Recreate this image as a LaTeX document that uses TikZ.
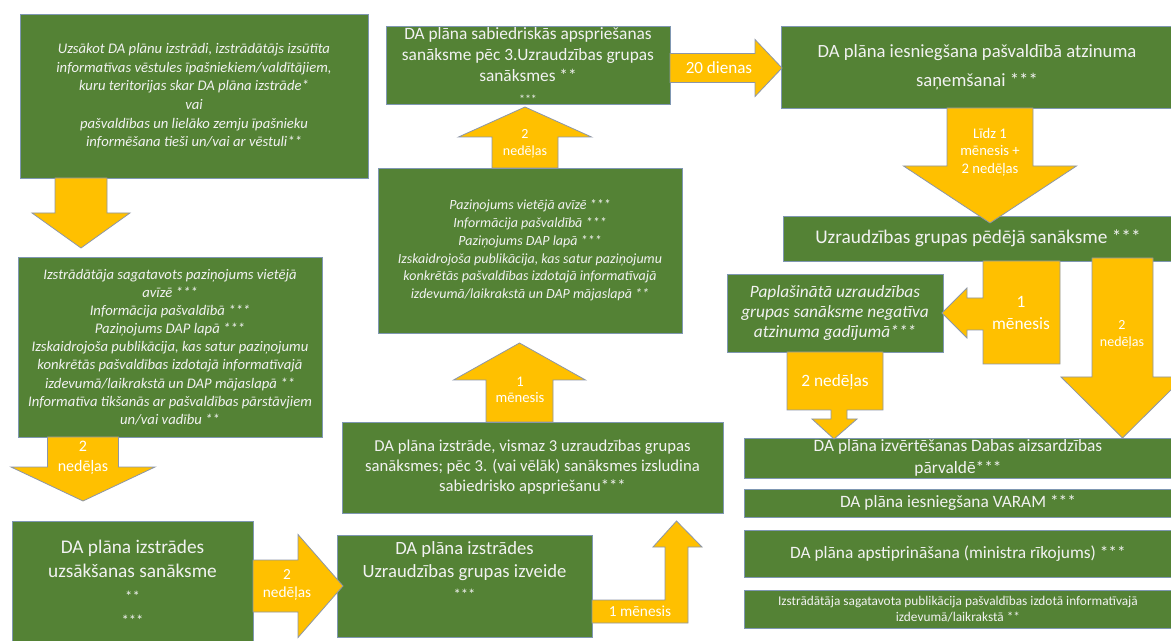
\documentclass[tikz,border=0pt]{standalone}
\usepackage{fontspec}
\setmainfont{Carlito}
\usetikzlibrary{calc}
\definecolor{dagreen}{HTML}{548235}
\definecolor{dayellow}{HTML}{FFC000}
\definecolor{boxline}{HTML}{7F97B2}
\definecolor{arrline}{HTML}{8C96A8}
\definecolor{boxtext}{HTML}{F2F2F2}
\newcommand\fsz[2]{\fontsize{#1}{#2}\selectfont}
\newcommand\blockarrow[6]{\draw[blk,shift={#1},rotate=#2] (0,-#4) -- (#3-#6,-#4) -- (#3-#6,-#5) -- (#3,0) -- (#3-#6,#5) -- (#3-#6,#4) -- (0,#4) -- cycle;}

\begin{document}
\begin{tikzpicture}[x=0.75pt,y=-0.75pt,
    box/.style={draw=boxline,line width=0.6pt,fill=dagreen,text=boxtext,inner sep=0pt,outer sep=0pt,align=center,anchor=north west},
    sz/.style 2 args={minimum width=#1*0.75pt,minimum height=#2*0.75pt},
    blk/.style={draw=arrline,line width=0.6pt,fill=dayellow},
    lbl/.style={text=white,align=center,inner sep=0pt}]
          \useasboundingbox (0,0) rectangle (1171,641);
          \clip (0,0) rectangle (1171,641);
          \fill[white] (0,0) rectangle (1171,641);

          \node[box,sz={348}{164},font=\fsz{11}{14}\itshape] (start) at (20,14) {Uzsākot DA plānu izstrādi, izstrādātājs izsūtīta\\informatīvas vēstules īpašniekiem/valdītājiem,\\kuru teritorijas skar DA plāna izstrāde*\\vai\\pašvaldības un lielāko zemju īpašnieku\\informēšana tieši un/vai ar vēstuli**};
          \node[box,sz={304}{180},font=\fsz{11}{13.6}\itshape] (notice) at (18,257) {Izstrādātāja sagatavots paziņojums vietējā\\avīzē ***\\Informācija pašvaldībā ***\\Paziņojums DAP lapā ***\\Izskaidrojoša publikācija, kas satur paziņojumu\\konkrētās pašvaldības izdotajā informatīvajā\\izdevumā/laikrakstā un DAP mājaslapā **\\Informatīva tikšanās ar pašvaldības pārstāvjiem\\un/vai vadību **};
          \node[box,sz={241}{124},font=\fsz{14.5}{18}] (kickoff) at (12,521) {DA plāna izstrādes\\uzsākšanas sanāksme\\{\fsz{11}{14}**}\\{\fsz{11}{14}***}};
          \node[box,sz={255}{102},font=\fsz{14}{17}] (group) at (337,535) {DA plāna izstrādes\\Uzraudzības grupas izveide\\{\fsz{11}{13}***}\\[6pt]};
          \node[box,sz={381}{91},font=\fsz{12.5}{15}] (drafting) at (342,422) {DA plāna izstrāde, vismaz 3 uzraudzības grupas\\sanāksmes; pēc 3. (vai vēlāk) sanāksmes izsludina\\sabiedrisko apspriešanu***};
          \node[box,sz={304}{165},font=\fsz{10.5}{13.3}\itshape] (publish) at (378,168) {Paziņojums vietējā avīzē ***\\Informācija pašvaldībā ***\\Paziņojums DAP lapā ***\\Izskaidrojoša publikācija, kas satur paziņojumu\\konkrētās pašvaldības izdotajā informatīvajā\\izdevumā/laikrakstā un DAP mājaslapā **};
          \node[box,sz={284}{78},font=\fsz{13}{16}] (hearing) at (386,26) {DA plāna sabiedriskās apspriešanas\\sanāksme pēc 3.Uzraudzības grupas\\sanāksmes **\\{\fsz{9}{10}***}};
          \node[box,sz={392}{82},font=\fsz{14}{22}] (council) at (781,26) {DA plāna iesniegšana pašvaldībā atzinuma\\saņemšanai ***};
          \node[box,sz={390}{45},font=\fsz{14.5}{17}] (lastmeet) at (783,216) {Uzraudzības grupas pēdējā sanāksme ***};
          \node[box,sz={216}{78},font=\fsz{13}{15}\itshape] (extended) at (727,274) {Paplašinātā uzraudzības\\grupas sanāksme negatīva\\atzinuma gadījumā***};
          \node[box,sz={428}{40},font=\fsz{13}{16}] (review) at (744,438) {DA plāna izvērtēšanas Dabas aizsardzības\\pārvaldē***};
          \node[box,sz={428}{28},font=\fsz{13}{16}] (varam) at (744,489) {DA plāna iesniegšana VARAM ***};
          \node[box,sz={428}{47},font=\fsz{13}{16}] (approve) at (744,530) {DA plāna apstiprināšana (ministra rīkojums) ***};
          \node[box,sz={428}{38},font=\fsz{10}{12.5}] (publication) at (744,590) {Izstrādātāja sagatavota publikācija pašvaldības izdotā informatīvajā\\izdevumā/laikrakstā **};

          \blockarrow{($(start.south west)+(61,0)$)}{-90}{70}{26}{49}{35}
          \blockarrow{($(notice.south west)+(65,0)$)}{-90}{64}{35.5}{72}{34}
          \blockarrow{($(kickoff.east)+(0,3)$)}{0}{90}{26}{51.5}{45}
          \draw[blk] ($(group.east)+(0,14)$) -- ++(73,0) -- ++(0,-53) -- ++(-12,0) -- ++(23.5,-26) -- ++(25.5,26) -- ++(-14,0) -- ++(0,76) -- ++(-96,0) -- cycle;
          \blockarrow{($(drafting.north west)+(177.5,0)$)}{90}{79}{33.5}{66}{37}
          \blockarrow{($(publish.north west)+(147,0)$)}{90}{61}{33}{66.5}{30}
          \blockarrow{($(hearing.east)+(0,3)$)}{0}{112}{14.5}{28.5}{27}
          \blockarrow{($(council.south west)+(209,0)$)}{-90}{115}{43}{86.5}{57}
          \draw[blk] ($(lastmeet.south west)+(277,0)$) -- ++(0,103) -- ++(-77,0) -- ++(0,-34) -- ++(-16,0) -- ++(0,8) -- ++(-25,-25) -- ++(25,-25) -- ++(0,10) -- ++(16,0) -- ++(0,-37) -- cycle;
          \blockarrow{($(lastmeet.south west)+(339.5,-3)$)}{-90}{180}{30.5}{61.5}{61}
          \draw[blk] ($(extended.south west)+(60,0)$) -- ++(96,0) -- ++(0,58) -- ++(-36,0) -- ++(0,9) -- ++(10,0) -- ++(-23,20) -- ++(-22,-20) -- ++(19,0) -- ++(0,-9) -- ++(-44,0) -- cycle;

          \node[lbl,font=\fsz{12}{15}] (wait1) at (83,458) {2\\nedēļas};
          \node[lbl,font=\fsz{11.5}{13}] (wait2) at (287,585) {2\\nedēļas};
          \node[lbl,font=\fsz{11.5}{14}] (wait3) at (640,611) {1 mēnesis};
          \node[lbl,font=\fsz{11}{12.5}] (wait4) at (520,390) {1\\mēnesis};
          \node[lbl,font=\fsz{10.5}{12.5}] (wait5) at (525,144) {2\\nedēļas};
          \node[lbl,font=\fsz{12.8}{15}] (wait6) at (719,68) {20 dienas};
          \node[lbl,font=\fsz{11}{13}] (wait7) at (990,152) {Līdz 1\\mēnesis +\\2 nedēļas};
          \node[lbl,font=\fsz{13}{16}] (wait8) at (1021,313) {1\\mēnesis};
          \node[lbl,font=\fsz{10.5}{12.5}] (wait9) at (1122,335) {2\\nedēļas};
          \node[lbl,font=\fsz{13}{15}] (wait10) at (835,382) {2 nedēļas};
          \end{tikzpicture}
\end{document}
